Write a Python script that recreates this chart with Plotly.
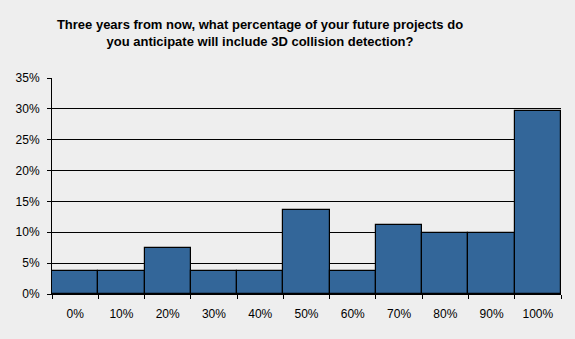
import plotly.graph_objects as go

categories = ["0%", "10%", "20%", "30%", "40%", "50%", "60%", "70%", "80%", "90%", "100%"]
values = [0.0370, 0.0370, 0.0741, 0.0370, 0.0370, 0.1358, 0.0370, 0.1111, 0.0988, 0.0988, 0.2963]
title_text = "Three years from now, what percentage of your future projects do<br>you anticipate will include 3D collision detection?"

fig = go.Figure(go.Bar(
    x=categories, y=values,
    marker=dict(color="#336699", line=dict(color="black", width=1.2)),
    width=1.0,
))

fig.update_layout(
    width=575, height=339,
    margin=dict(l=52, r=14, t=78, b=45),
    paper_bgcolor="#EEEEEE", plot_bgcolor="#EEEEEE",
    bargap=0,
    showlegend=False,
    font=dict(family="Liberation Sans, Arial, sans-serif", size=12, color="black"),
    title=dict(text=f"<b>{title_text}</b>", x=260/575, xanchor="center", xref="container",
               y=1-29/339, yanchor="middle", yref="container",
               font=dict(family="Liberation Sans, Arial, sans-serif", size=13, color="black")),
)
fig.update_xaxes(
    type="category", tickson="boundaries", ticks="outside", ticklen=4, tickcolor="black",
    showline=True, linecolor="black", linewidth=1, showgrid=False,
    tickfont=dict(size=12, color="black"), ticklabelstandoff=9,
)
fig.update_yaxes(
    range=[0, 0.35], dtick=0.05, tickformat=".0%", ticks="outside", ticklen=4, tickcolor="black",
    showline=True, linecolor="black", linewidth=1,
    showgrid=True, gridcolor="black", gridwidth=1, zeroline=False,
    tickfont=dict(size=12, color="black"), ticklabelstandoff=5,
)

fig.write_html("out.html")
